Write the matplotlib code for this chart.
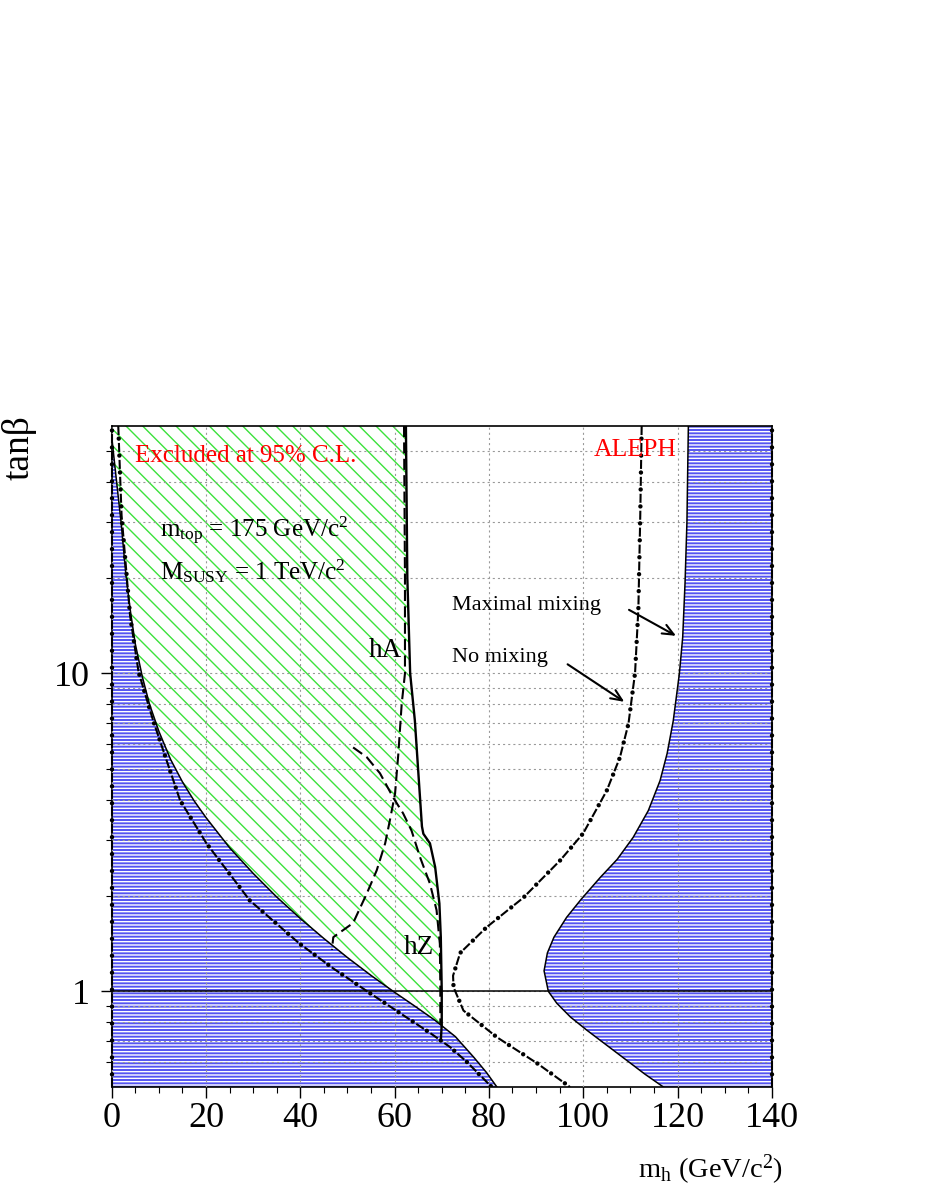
import matplotlib
matplotlib.use("Agg")
import matplotlib.pyplot as plt
import numpy as np

# =========================
# STYLE
# =========================
plt.rcParams.update({
    "font.family": "serif",
    "font.serif": ["Liberation Serif", "DejaVu Serif"],
    "mathtext.fontset": "custom",
    "mathtext.rm": "Liberation Serif",
    "mathtext.it": "Liberation Serif:italic",
    "mathtext.bf": "Liberation Serif:bold",
    "hatch.linewidth": 1.0,
    "lines.scale_dashes": False,
})

# =========================
# DATA
# =========================
# theoretically excluded, maximal mixing (left region), boundary
theo_left_x = [0.0, 1.0, 2.0, 3.0, 4.0, 5.0, 6.5, 8.0, 10.0, 12.5, 15.0, 17.5, 20.0,
               25.0, 30.0, 35.0, 40.0, 45.0, 50.0, 55.0, 59.7, 64.2, 68.6, 72.9,
               76.8, 79.5, 81.7]
theo_left_y = [55.6, 40.6, 29.8, 20.5, 15.6, 12.4, 9.76, 8.02, 6.58, 5.36, 4.56, 3.97,
               3.52, 2.83, 2.35, 1.98, 1.695, 1.466, 1.277, 1.122, 1.00, 0.90, 0.81,
               0.72, 0.62, 0.555, 0.50]

# theoretically excluded, maximal mixing (right region), boundary
theo_right_y = [60.0, 30.0, 19.3, 13.0, 10.0, 7.1, 5.6, 4.6, 3.7, 3.05, 2.6, 2.28, 1.95,
                1.71, 1.48, 1.32, 1.16, 1.0, 0.917, 0.83, 0.754, 0.68, 0.607, 0.55, 0.50]
theo_right_x = [122.3, 122.0, 121.6, 121.1, 120.4, 119.1, 117.8, 116.3, 113.8, 110.6,
                107.2, 103.6, 99.6, 96.5, 93.8, 92.4, 91.7, 92.6, 94.4, 97.3, 100.8,
                104.8, 109.2, 113.0, 117.0]

# no mixing boundaries (dash-dot)
nomix_left_x = [1.4, 2.1, 3.9, 5.7, 8.8, 14.5, 20.1, 29.3, 39.9, 47.0, 54.8, 61.2,
                67.5, 71.8, 75.3, 80.6]
nomix_left_y = [60.0, 31.4, 15.2, 10.1, 7.1, 3.99, 2.92, 1.93, 1.41, 1.18, 0.986, 0.853,
                0.74, 0.667, 0.60, 0.50]
nomix_right_y = [60.0, 31.4, 16.0, 10.05, 6.95, 5.45, 4.28, 3.14, 2.58, 1.97, 1.59, 1.32,
                 1.12, 1.03, 0.87, 0.717, 0.594, 0.50]
nomix_right_x = [112.4, 112.1, 111.7, 111.0, 109.6, 107.8, 105.0, 100.0, 95.1, 87.3, 79.5,
                 73.9, 72.4, 72.5, 74.6, 81.7, 90.2, 97.2]

# experimental 95% C.L. exclusion (solid)
excl_x = [62.4, 62.7, 63.3, 64.3, 65.0, 65.8, 66.1, 67.5, 68.6, 69.5, 69.8, 70.0, 70.0, 69.8]
excl_y = [60.0, 20.0, 10.0, 7.1, 4.96, 3.3, 3.13, 2.92, 2.46, 1.89, 1.48, 1.0, 0.785, 0.70]

# expected hA and hZ limits (dashed)
ha_x = [62.0, 62.2, 62.2, 61.5, 60.8, 60.1, 59.0, 58.0, 56.2, 54.1, 51.2, 47.0, 46.7]
ha_y = [60.0, 20.0, 10.0, 8.0, 5.6, 4.19, 3.45, 2.92, 2.40, 2.03, 1.64, 1.48, 1.35]
hz_x = [51.2, 54.1, 56.9, 59.7, 61.8, 63.6, 65.4, 67.5, 68.9, 69.6, 69.7, 69.7]
hz_y = [5.85, 5.45, 4.85, 4.07, 3.63, 3.2, 2.64, 2.18, 1.80, 1.41, 1.03, 0.79]

xmin, xmax = 0, 140
ymin, ymax = 0.5, 60.0

# =========================
# FIGURE
# =========================
fig = plt.figure(figsize=(9.26, 11.99), dpi=100)
ax = fig.add_axes([0.1206, 0.0934, 0.7129, 0.5513])
ax.set_yscale("log")
ax.set_xlim(xmin, xmax)
ax.set_ylim(ymin, ymax)

blue_face = "#5454f2"

# blue regions (theory)
ax.fill_betweenx(theo_left_y, 0, theo_left_x, facecolor=blue_face,
                 edgecolor="white", hatch="-----", linewidth=0, zorder=1)
ax.fill_betweenx(theo_right_y, theo_right_x, 140, facecolor=blue_face,
                 edgecolor="white", hatch="-----", linewidth=0, zorder=1)

# green region (experimental exclusion)
ex = np.array(excl_x)
ey = np.array(excl_y)
tx = np.array(theo_left_x)
ty = np.array(theo_left_y)
keep_e = ey >= 0.785
keep_t = tx < 70.0
gx = np.concatenate([[0.0], ex[keep_e], tx[keep_t][::-1]])
gy = np.concatenate([[ymax], ey[keep_e], ty[keep_t][::-1]])
ax.fill(gx, gy, facecolor="none", edgecolor="#3ce23c", hatch="\\\\",
        linewidth=0, zorder=1.2)

# boundaries
ax.plot(theo_left_x, theo_left_y, color="black", lw=1.1, zorder=3)
ax.plot(theo_right_x, theo_right_y, color="black", lw=1.1, zorder=3)
ax.plot(excl_x, excl_y, color="black", lw=1.7, zorder=3)

# dash-dot lines: dashes plus bigger dots in the gaps
dash_part = (0, (6.5, 5.7))
dot_part = (3.1, (0.01, 12.19))


def dashdot(xs, ys, **kw):
    ax.plot(xs, ys, color="black", lw=1.5, linestyle=dash_part, zorder=3, **kw)
    ax.plot(xs, ys, color="black", lw=3.2, linestyle=dot_part,
            dash_capstyle="round", zorder=3, **kw)


dashdot(nomix_left_x, nomix_left_y)
dashdot(nomix_right_x, nomix_right_y)
for xe in (xmin, xmax):
    dashdot([xe, xe], [ymin, ymax], clip_on=False)

dashed = (0, (8, 3.8))
ax.plot(ha_x, ha_y, color="black", lw=1.5, linestyle=dashed, zorder=3)
ax.plot(hz_x, hz_y, color="black", lw=1.5, linestyle=dashed, zorder=3)

# tan(beta) = 1 line
ax.axhline(1.0, color="black", lw=1.1, zorder=3)

# =========================
# AXES, TICKS, GRID
# =========================
ax.set_xticks(np.arange(0, 141, 20))
ax.set_xticks(np.arange(0, 141, 5), minor=True)
ax.set_yticks([1, 10])
ax.set_yticklabels(["1", "10"])
yminor = [0.6, 0.7, 0.8, 0.9, 2, 3, 4, 5, 6, 7, 8, 9, 20, 30, 40, 50]
ax.set_yticks(yminor, minor=True)
ax.yaxis.set_minor_formatter(matplotlib.ticker.NullFormatter())

ax.tick_params(which="major", direction="out", length=8, width=1.0,
               labelsize=26, pad=3, top=False, right=False)
ax.tick_params(which="minor", direction="out", length=4.5, width=0.8,
               top=False, right=False)
ax.tick_params(axis="y", which="major", pad=8)

gridkw = dict(color="#999999", linestyle=(0, (1.5, 2.2)), linewidth=0.8)
ax.grid(True, axis="x", which="major", **gridkw)
ax.grid(True, axis="y", which="both", **gridkw)
ax.set_axisbelow(False)

for sp in ax.spines.values():
    sp.set_linewidth(1.2)

# =========================
# TEXT
# =========================
ax.text(5.0, 48.4, "Excluded at 95% C.L.", color="red", fontsize=18,
        ha="left", va="center", zorder=5)
ax.text(102.3, 50.4, "ALEPH", color="red", fontsize=18.5,
        ha="left", va="center", zorder=5)
ax.text(10.2, 28.0, r"m$_{\mathrm{top}}$ = 175 GeV/c$^{2}$", fontsize=18,
        ha="left", va="center", zorder=5)
ax.text(10.2, 21.0, r"M$_{\mathrm{SUSY}}$ = 1 TeV/c$^{2}$", fontsize=18,
        ha="left", va="center", zorder=5)
ax.text(54.6, 11.8, "hA", fontsize=19.5, ha="left", va="center", zorder=5)
ax.text(62.0, 1.375, "hZ", fontsize=19.5, ha="left", va="center", zorder=5)
ax.text(72.2, 16.4, "Maximal mixing", fontsize=16, ha="left", va="center", zorder=5)
ax.text(72.2, 11.2, "No mixing", fontsize=16, ha="left", va="center", zorder=5)

arrowkw = dict(arrowstyle="->,head_length=0.8,head_width=0.35", color="black", lw=1.5)
ax.annotate("", xy=(120.2, 13.0), xytext=(109.2, 16.0), arrowprops=arrowkw, zorder=5)
ax.annotate("", xy=(109.2, 8.05), xytext=(96.2, 10.8), arrowprops=arrowkw, zorder=5)

fig.text(783 / 926, 1 - 1170 / 1199, r"m$_{\mathrm{h}}$ (GeV/c$^{2}$)", fontsize=20.5,
         ha="right", va="center")
fig.text(19 / 926, 1 - 448 / 1199, "tanβ", fontsize=27, rotation=90,
         ha="center", va="center")

fig.savefig("out.png", dpi=100)
